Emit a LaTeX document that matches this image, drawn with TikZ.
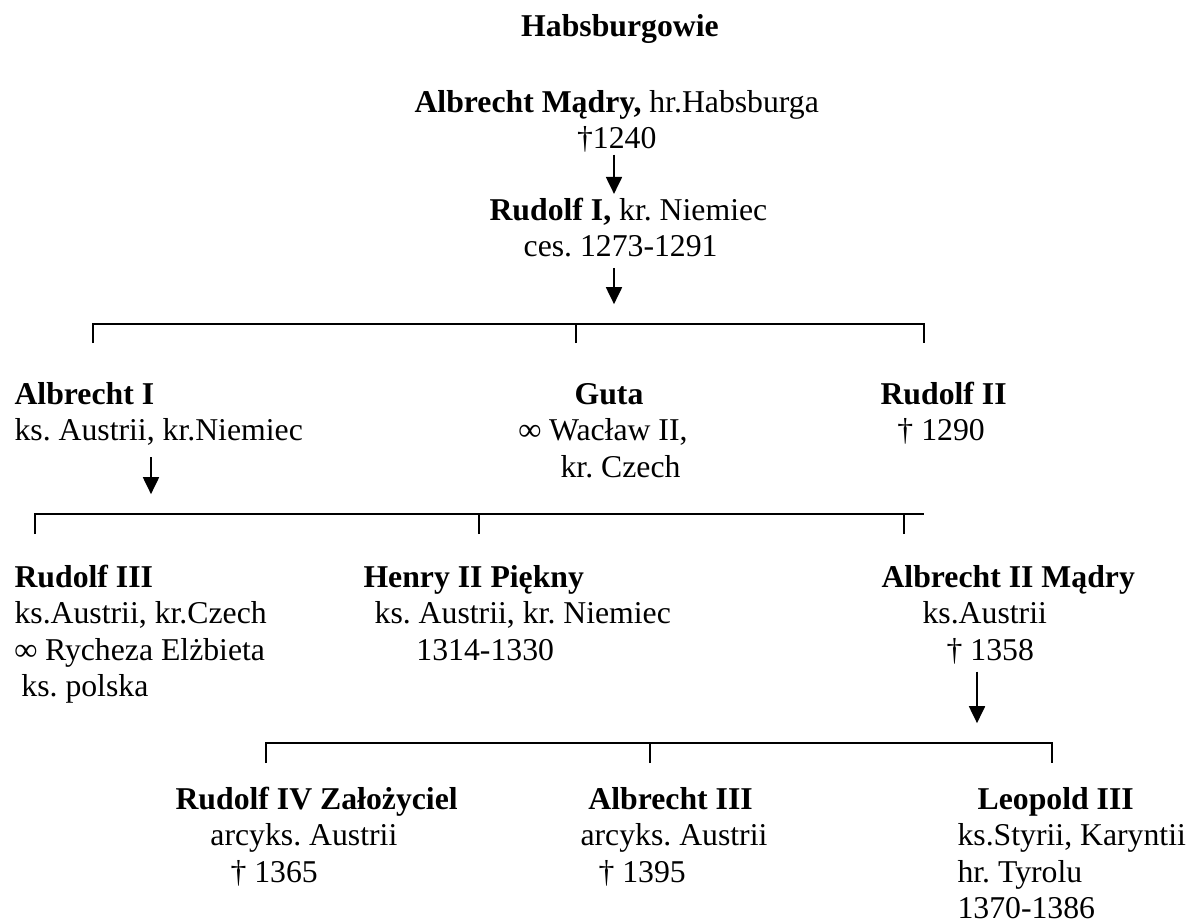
\documentclass[tikz,border=0pt]{standalone}
\usepackage{fontspec}
\setmainfont{Liberation Serif}
\usepackage{tikz}
\usetikzlibrary{arrows.meta, positioning, calc}
\frenchspacing

\begin{document}
\begin{tikzpicture}[
    x=0.378pt, y=-0.378pt,
    every node/.style={font=\fontsize{12}{13.8}\selectfont, inner sep=0pt},
    person/.style={anchor=base west},
    title/.style={anchor=base, font=\fontsize{12}{13.8}\selectfont\bfseries},
    arrow/.style={->, >={Triangle[width=6pt,length=6.4pt]}, line width=0.8pt},
    bar/.style={line width=0.8pt}
]
\useasboundingbox (0,0) rectangle (1191,922);

% Title
\node[title] (title) at (620,36) {Habsburgowie};

% Founder
\node[person] (albrecht) at (414,112) {\begin{tabular}[t]{@{}c@{}}\textbf{Albrecht Mądry,} hr.Habsburga\\ †1240\end{tabular}};
\node[person] (rudolf1) at (489,220) {\begin{tabular}[t]{@{}l@{}}\textbf{Rudolf I,} kr. Niemiec\\ \hspace*{12.9pt}ces. 1273-1291\end{tabular}};

% Children of Rudolf I
\node[person] (albrecht1) at (14,404) {\begin{tabular}[t]{@{}l@{}}\textbf{Albrecht I}\\ ks. Austrii, kr.Niemiec\end{tabular}};
\node[person] (guta) at (518,404) {\begin{tabular}[t]{@{}l@{}}\hspace*{21.2pt}\textbf{Guta}\\ \textbf{∞} Wacław II,\\ \hspace*{15.9pt}kr. Czech\end{tabular}};
\node[person] (rudolf2) at (880,404) {\begin{tabular}[t]{@{}l@{}}\textbf{Rudolf II}\\ \hspace*{6.4pt}† 1290\end{tabular}};

% Children of Albrecht I
\node[person] (rudolf3) at (14,587) {\begin{tabular}[t]{@{}l@{}}\textbf{Rudolf III}\\ ks.Austrii, kr.Czech\\ \textbf{∞} Rycheza Elżbieta\\ \hspace*{2.6pt}ks. polska\end{tabular}};
\node[person] (henry) at (363,587) {\begin{tabular}[t]{@{}l@{}}\textbf{Henry II Piękny}\\ \hspace*{4.2pt}ks. Austrii, kr. Niemiec\\ \hspace*{20pt}1314-1330\end{tabular}};
\node[person] (albrecht2) at (881,587) {\begin{tabular}[t]{@{}l@{}}\textbf{Albrecht II Mądry}\\ \hspace*{15.5pt}ks.Austrii\\ \hspace*{24.6pt}† 1358\end{tabular}};

% Children of Albrecht II
\node[person] (rudolf4) at (175,809) {\begin{tabular}[t]{@{}l@{}}\textbf{Rudolf IV Założyciel}\\ \hspace*{13.2pt}arcyks. Austrii\\ \hspace*{20.8pt}† 1365\end{tabular}};
\node[person] (albrecht3) at (580,809) {\begin{tabular}[t]{@{}l@{}}\hspace*{3pt}\textbf{Albrecht III}\\ arcyks. Austrii\\ \hspace*{6.8pt}† 1395\end{tabular}};
\node[person] (leopold) at (957,809) {\begin{tabular}[t]{@{}l@{}}\hspace*{7.6pt}\textbf{Leopold III}\\ ks.Styrii, Karyntii\\ hr. Tyrolu\\ 1370-1386\end{tabular}};

% Bracket ends
\coordinate (bar1) at (0,324);
\coordinate (b1l) at (93,343);
\coordinate (b1m) at (576,343);
\coordinate (b1r) at (924,343);
\coordinate (bar2) at (0,514);
\coordinate (b2l) at (35,534);
\coordinate (b2m) at (479,534);
\coordinate (b2r) at (904,534);
\coordinate (b2e) at (924,514);
\coordinate (bar3) at (0,743);
\coordinate (b3l) at (266,763);
\coordinate (b3m) at (650,763);
\coordinate (b3r) at (1052,763);

% Arrow columns
\coordinate (top) at (614,0);
\coordinate (a1x) at (151,0);
\coordinate (a2x) at (977,0);

% Brackets
\draw[bar] (b1l) |- (bar1 -| b1r) -- (b1r);
\draw[bar] (b1m) -- (bar1 -| b1m);
\draw[bar] (b2l) |- (b2e);
\draw[bar] (b2m) -- (bar2 -| b2m);
\draw[bar] (b2r) -- (bar2 -| b2r);
\draw[bar] (b3l) |- (bar3 -| b3r) -- (b3r);
\draw[bar] (b3m) -- (bar3 -| b3m);

% Arrows
\draw[arrow, shorten <=-2pt] (albrecht.south -| top) -- (rudolf1.north -| top);
\draw[arrow, shorten >=7.5pt] (rudolf1.south -| top) -- (bar1 -| top);
\draw[arrow, shorten <=2pt, shorten >=7.5pt] (albrecht1.south -| a1x) -- (bar2 -| a1x);
\draw[arrow, shorten >=7.5pt] (albrecht2.south -| a2x) -- (bar3 -| a2x);

\end{tikzpicture}
\end{document}
